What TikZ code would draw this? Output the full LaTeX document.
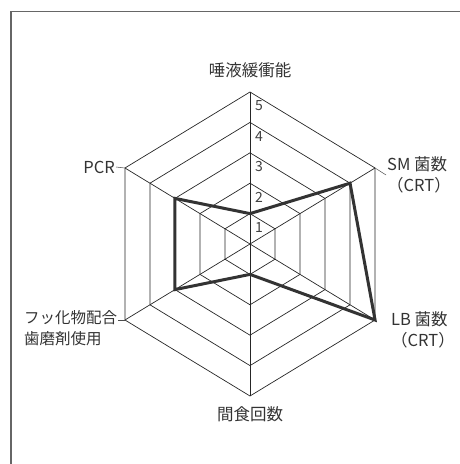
\documentclass[tikz,border=0pt]{standalone}
\usepackage{fontspec}
\setmainfont{Noto Sans CJK JP}
\usetikzlibrary{arrows,positioning}

\begin{document}
\begin{tikzpicture}[x=1pt,y=1pt,
  grid line/.style={draw=black!85,line width=0.7pt},
  score line/.style={draw=black!80,line width=3pt,line join=miter},
  axis label/.style={font=\fontsize{16.5}{21}\selectfont,text=black!80,inner sep=1pt},
  level label/.style={font=\fontsize{14}{14}\selectfont,text=black!75,inner sep=0pt}]

  \useasboundingbox (0,0) rectangle (460,464);
  \draw[black!60,line width=1.5pt] (460,452.5) -- (11,452.5) -- (11,0);

  \begin{scope}[shift={(250,220)},xscale=0.95]
    % hexagons
    \foreach \l in {1,...,5}
      \draw[grid line] (90:\l*30.4) -- (30:\l*30.4) -- (-30:\l*30.4) -- (-90:\l*30.4)
        -- (-150:\l*30.4) -- (150:\l*30.4) -- cycle;
    % spokes
    \foreach \a [count=\i] in {90,30,-30,-90,-150,150} {
      \coordinate (v\i) at (\a:152);
      \draw[grid line] (0,0) -- (v\i);
    }
    % scale numbers
    \foreach \l in {1,...,5}
      \node[level label] (n\l) at (9.5,\l*30.4-14) {\l};
    % scores
    \draw[score line] (90:1*30.4) -- (30:4*30.4) -- (-30:5*30.4) -- (-90:1*30.4)
      -- (-150:3*30.4) -- (150:3*30.4) -- cycle;
  \end{scope}

  \node[axis label] (buffer) at (250,394) {唾液緩衝能};
  \node[axis label,anchor=west,align=left] (sm) at (386,289) {SM 菌数\\（CRT）};
  \node[axis label,anchor=west,align=left] (lb) at (390,134) {LB 菌数\\（CRT）};
  \node[axis label] (snack) at (250,50) {間食回数};
  \node[axis label,anchor=west,align=left,font=\fontsize{15.5}{21}\selectfont] (fluor) at (23,136) {フッ化物配合\\歯磨剤使用};
  \node[axis label,anchor=east] (pcr) at (116,297) {PCR};

  \draw[black!70,line width=0.5pt] (v2) -- (sm.west);
  \draw[black!70,line width=0.5pt] (v6) -- (pcr.east);
  \draw[black!70,line width=0.5pt] (v5) -- ([xshift=-7pt]v5);
\end{tikzpicture}
\end{document}
